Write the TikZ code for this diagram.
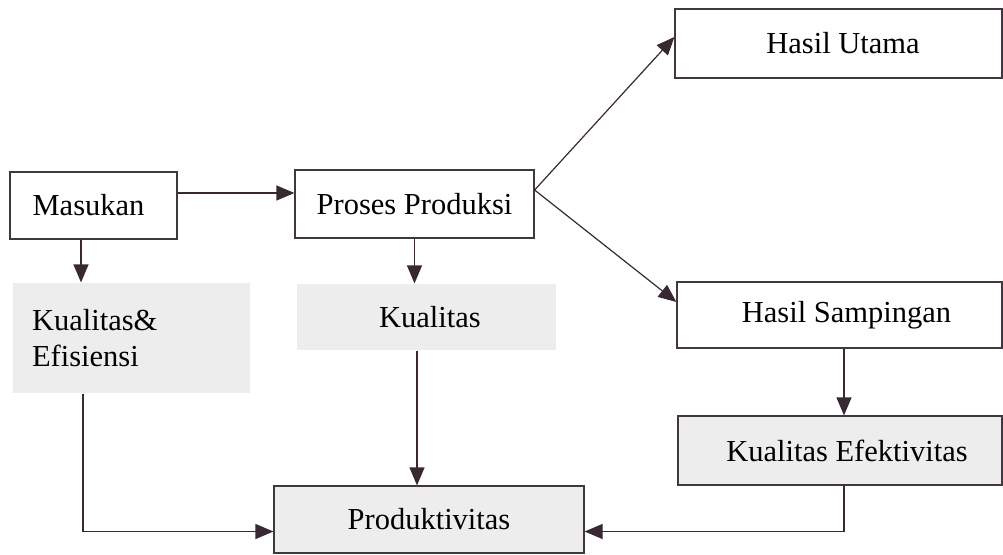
\documentclass[tikz,border=0pt]{standalone}
\usepackage{fontspec}
\setmainfont{Liberation Serif}
\usepackage{tikz}
\usetikzlibrary{arrows.meta}

\begin{document}
\begin{tikzpicture}[x=1pt,y=-1pt,
    box/.style={draw={rgb,255:red,65;green,55;blue,65}, line width=1.2pt, fill=white, inner sep=0pt, font=\fontsize{30.5}{36}\selectfont},
    greybox/.style={box, draw=none, fill=black!7},
    arr/.style={draw={rgb,255:red,55;green,40;blue,50}, line width=1.2pt, -{Triangle[length=18pt,width=15pt]}}]
            \useasboundingbox (0,0) rectangle (1003,554);

            % Draw boxes
            \node[box, minimum width=167pt, minimum height=67pt] (masukan) at (93.5,205.5) {Masukan\hspace*{10pt}};
            \node[box, minimum width=239pt, minimum height=68pt] (proses) at (414.5,204) {Proses Produksi};
            \node[box, minimum width=327pt, minimum height=69pt] (utama) at (838.5,43.5) {\hspace*{9pt}Hasil Utama};
            \node[box, minimum width=325pt, minimum height=66pt] (samping) at (839.5,315) {\hspace*{14pt}Hasil Sampingan};
            \node[greybox, minimum width=237pt, minimum height=110pt, text width=199pt, align=left] (kualef) at (131.5,338) {Kualitas\&\\Efisiensi};
            \node[greybox, minimum width=259pt, minimum height=66pt] (kualitas) at (426.5,317) {\hspace*{7pt}Kualitas};
            \node[box, fill=black!7, minimum width=324pt, minimum height=69pt] (efektif) at (840,450.5) {\hspace*{14pt}Kualitas Efektivitas};
            \node[box, fill=black!7, minimum width=310pt, minimum height=67pt] (produk) at (429,519.5) {Produktivitas};

            % Draw arrows
            \draw[arr] ([yshift=12.5pt]masukan.east) -- ([yshift=12.5pt]masukan.east -| proses.west);
            \draw[arr] ([xshift=-12.5pt]masukan.south) -- ([xshift=-12.5pt]masukan.south |- kualef.north);
            \draw[arr] (proses.south) -- (proses.south |- kualitas.north);
            \draw[arr] ([yshift=14pt]proses.east) -- ([yshift=6.5pt]utama.west);
            \draw[arr] ([yshift=14pt]proses.east) -- ([yshift=13pt]samping.west);
            \draw[arr] ([xshift=4.5pt]samping.south) -- ([xshift=4.5pt]samping.south |- efektif.north);
            \draw[arr] ([xshift=4pt]efektif.south) |- ([yshift=-12pt]produk.east);
            \draw[arr] ([xshift=-48.5pt]kualef.south) |- ([yshift=-12pt]produk.west);
            \draw[arr] ([xshift=-9.5pt]kualitas.south) -- ([xshift=-9.5pt]kualitas.south |- produk.north);
        \end{tikzpicture}
\end{document}
